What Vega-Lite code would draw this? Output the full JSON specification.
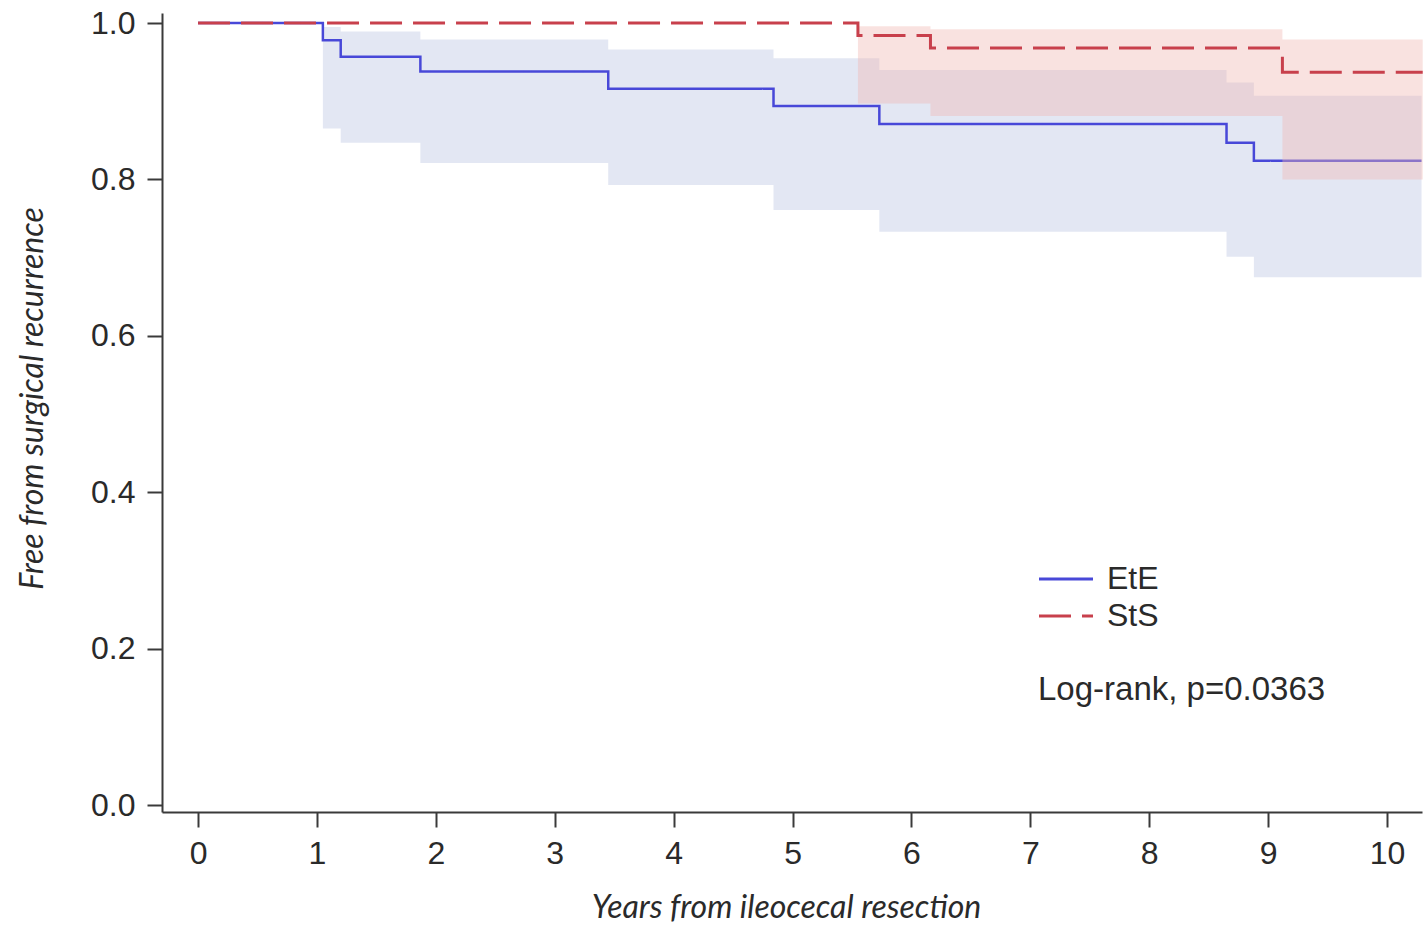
{
  "$schema": "https://vega.github.io/schema/vega-lite/v6.json",
  "width": 1260,
  "height": 799,
  "autosize": {"type": "none"},
  "padding": {"left": 162, "top": 13, "right": 5, "bottom": 114},
  "background": "white",
  "config": {
    "view": {"stroke": null},
    "axis": {
      "grid": false,
      "domainColor": "#3a3a3a",
      "domainWidth": 2,
      "tickColor": "#3a3a3a",
      "tickWidth": 2,
      "tickSize": 15,
      "labelFont": "Liberation Sans",
      "labelFontSize": 32,
      "labelColor": "#2a2a2a",
      "titleFont": "Lato",
      "titleFontStyle": "italic",
      "titleFontWeight": "normal",
      "titleFontSize": 32,
      "titleColor": "#2a2a2a"
    },
    "legend": {
      "orient": "none",
      "legendX": 876,
      "legendY": 550,
      "padding": 0,
      "symbolType": "M-1.5,0L3.9,0",
      "symbolSize": 400,
      "symbolStrokeWidth": 3,
      "labelFont": "Liberation Sans",
      "labelFontSize": 32,
      "labelColor": "#2a2a2a",
      "labelOffset": 37,
      "rowPadding": 5,
      "titleOrient": "bottom",
      "titleFont": "Liberation Sans",
      "titleFontSize": 33,
      "titleFontWeight": "normal",
      "titleColor": "#2a2a2a",
      "titleAnchor": "start",
      "titlePadding": 42,
      "titleLimit": 600
    }
  },
  "datasets": {
    "km": [
      {"group": "EtE", "t": 0, "S": 1, "lo": 1, "hi": 1},
      {"group": "EtE", "t": 1.05, "S": 0.978, "lo": 0.865, "hi": 0.995},
      {"group": "EtE", "t": 1.2, "S": 0.957, "lo": 0.847, "hi": 0.989},
      {"group": "EtE", "t": 1.87, "S": 0.938, "lo": 0.821, "hi": 0.979},
      {"group": "EtE", "t": 3.45, "S": 0.916, "lo": 0.793, "hi": 0.966},
      {"group": "EtE", "t": 4.84, "S": 0.894, "lo": 0.761, "hi": 0.955},
      {"group": "EtE", "t": 5.73, "S": 0.871, "lo": 0.733, "hi": 0.94},
      {"group": "EtE", "t": 8.65, "S": 0.847, "lo": 0.701, "hi": 0.924},
      {"group": "EtE", "t": 8.88, "S": 0.824, "lo": 0.675, "hi": 0.907},
      {"group": "EtE", "t": 10.29, "S": 0.824, "lo": 0.675, "hi": 0.907},
      {"group": "StS", "t": 0, "S": 1, "lo": 1, "hi": 1},
      {"group": "StS", "t": 5.55, "S": 0.984, "lo": 0.897, "hi": 0.996},
      {"group": "StS", "t": 6.16, "S": 0.968, "lo": 0.881, "hi": 0.992},
      {"group": "StS", "t": 9.12, "S": 0.937, "lo": 0.8, "hi": 0.979},
      {"group": "StS", "t": 10.3, "S": 0.937, "lo": 0.8, "hi": 0.979}
    ]
  },
  "data": {"name": "km"},
  "encoding": {
    "x": {
      "field": "t",
      "type": "quantitative",
      "scale": {"domain": [-0.303, 10.294], "nice": false, "zero": false},
      "axis": {
        "values": [0, 1, 2, 3, 4, 5, 6, 7, 8, 9, 10],
        "format": "d",
        "labelPadding": 11,
        "title": "Years from ileocecal resection",
        "titleX": 624,
        "titleY": 105,
        "titleBaseline": "alphabetic"
      }
    }
  },
  "layer": [
    {
      "transform": [{"filter": "datum.group === 'EtE'"}],
      "mark": {"type": "area", "interpolate": "step-after", "fill": "#e3e7f3", "opacity": 1},
      "encoding": {
        "y": {
          "field": "lo",
          "type": "quantitative",
          "scale": {"domain": [-0.0089, 1.0128], "nice": false, "zero": false},
          "axis": {
            "values": [0, 0.2, 0.4, 0.6, 0.8, 1.0],
            "format": ".1f",
            "labelPadding": 12,
            "title": "Free from surgical recurrence",
            "titleX": -120,
            "titleY": 385,
            "titleBaseline": "alphabetic",
            "titleAngle": 270
          }
        },
        "y2": {"field": "hi"}
      }
    },
    {
      "transform": [{"filter": "datum.group === 'EtE'"}],
      "mark": {"type": "line", "interpolate": "step-after", "strokeWidth": 2.5},
      "encoding": {
        "y": {"field": "S", "type": "quantitative"},
        "color": {
          "field": "group",
          "type": "nominal",
          "scale": {"domain": ["EtE", "StS"], "range": ["#4848d8", "#c8404c"]},
          "legend": {"title": "Log-rank, p=0.0363"}
        },
        "strokeDash": {
          "field": "group",
          "type": "nominal",
          "scale": {"domain": ["EtE", "StS"], "range": [[1, 0], [32, 11]]},
          "legend": {"title": "Log-rank, p=0.0363"}
        }
      }
    },
    {
      "transform": [{"filter": "datum.group === 'StS'"}],
      "mark": {"type": "area", "interpolate": "step-after", "fill": "#f0b6b1", "opacity": 0.4},
      "encoding": {
        "y": {"field": "lo", "type": "quantitative"},
        "y2": {"field": "hi"}
      }
    },
    {
      "transform": [{"filter": "datum.group === 'StS'"}],
      "mark": {"type": "line", "interpolate": "step-after", "strokeWidth": 3},
      "encoding": {
        "y": {"field": "S", "type": "quantitative"},
        "color": {"field": "group", "type": "nominal", "legend": {"title": "Log-rank, p=0.0363"}},
        "strokeDash": {"field": "group", "type": "nominal", "legend": {"title": "Log-rank, p=0.0363"}}
      }
    }
  ]
}
